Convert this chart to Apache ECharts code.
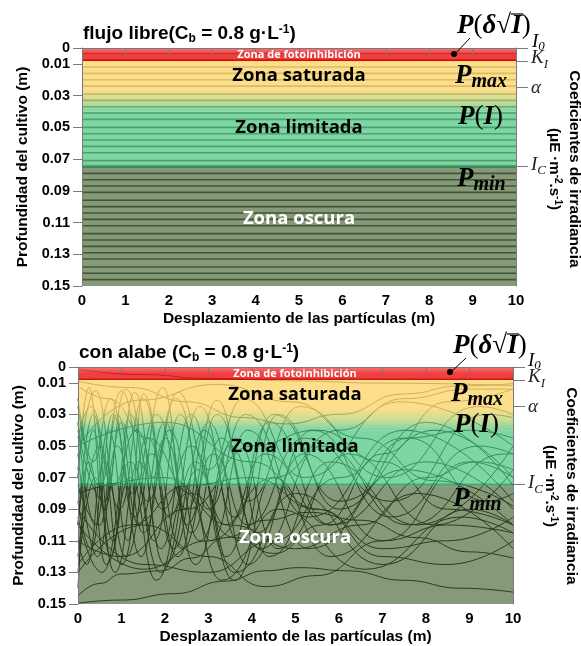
<!DOCTYPE html>
<html><head><meta charset="utf-8">
<script src="https://cdn.jsdelivr.net/npm/echarts@6/dist/echarts.min.js"></script>
<style>html,body{margin:0;padding:0;background:#fff}#c{width:581px;height:646px}</style>
</head><body><div id="c"></div>
<script>
// ---------- data ----------
const depthTicks = [0, 0.01, 0.03, 0.05, 0.07, 0.09, 0.11, 0.13, 0.15];
const coefDepths = [0, 0.0082, 0.025, 0.0745];
const coefLabelDepths = [0.0082, 0.025, 0.0745];
const coefNames = ['I0', 'KI', 'alpha', 'IC'];
const zoneRed = [0, 0.0082];
const zoneRedEdge = [0.0073, 0.0083];
const zoneYellow = [0.0082, 0.026];
const zoneBlend = [0.026, 0.04];
const zoneGreen = [0.04, 0.0735];
const zoneGreenEdge = [0.0735, 0.0755];
const zoneDark = [0.0755, 0.15];
// free flow: constant-depth particle paths
const freeFlowDepths = [0.0035, 0.0077, 0.012, 0.016, 0.020, 0.024, 0.029, 0.033, 0.037, 0.041,
  0.045, 0.050, 0.054, 0.058, 0.062, 0.066, 0.071, 0.075, 0.079, 0.083, 0.087, 0.091, 0.096,
  0.100, 0.104, 0.108, 0.112, 0.117, 0.121, 0.125, 0.129, 0.133, 0.138, 0.142, 0.146];
// with blade: trajectories [x (m), depth (m)]
const trA1 = [[0,0.0015],[1.5,0.0048],[3,0.0072],[5,0.0088],[7,0.0102],[10,0.0118]];
const trA2 = [[0,0.009],[1.2,0.013],[2.5,0.022],[3.8,0.032],[4.8,0.036],[6,0.03],[7.5,0.017],[8.8,0.012],[10,0.0105]];
const trA3 = [[0,0.05],[1.4,0.021],[3.2,0.011],[4.9,0.022],[6.5,0.045],[8.2,0.072],[10,0.088]];
const trA4 = [[0,0.012],[0.7,0.02],[1.6,0.045],[2.6,0.08],[3.6,0.108],[4.5,0.118],[5.6,0.1],[7,0.055],[8.5,0.022],[10,0.014]];
const trA5 = [[0,0.145],[0.5,0.137],[1,0.131],[1.9,0.129],[2.6,0.121],[3.4,0.108],[4.3,0.097],[5.3,0.092],[6.5,0.097],[7.8,0.108],[9,0.117],[10,0.121]];
const trA6 = [[0,0.1495],[1,0.1475],[2.2,0.1435],[3.4,0.1355],[4.3,0.129],[5.1,0.127],[6.2,0.129],[7.5,0.135],[8.8,0.14],[10,0.1425]];
const trA7 = [[0,0.13],[1.5,0.1],[3,0.12],[4.3,0.139],[5.5,0.132],[7,0.11],[8.5,0.1],[10,0.105]];
const trO1 = [[0,0.10],[0.35,0.03],[0.8,0.11],[1.3,0.016],[1.9,0.115],[2.6,0.03],[3.4,0.12],[4.4,0.035],[5.8,0.1],[7.6,0.045],[9.4,0.085],[10,0.08]];
const trO2 = [[0,0.07],[0.25,0.013],[0.6,0.09],[1.0,0.035],[1.5,0.105],[2.1,0.04],[2.8,0.11],[3.6,0.045],[4.6,0.115],[6.2,0.055],[8.2,0.1],[10,0.065]];
const trO3 = [[0,0.035],[0.4,0.1],[0.8,0.03],[1.3,0.095],[1.95,0.013],[2.5,0.1],[3.2,0.03],[4.1,0.105],[5.4,0.04],[7.2,0.095],[9.2,0.05],[10,0.055]];
const trO4 = [[0,0.12],[0.5,0.05],[1.0,0.125],[1.6,0.045],[2.3,0.12],[3.0,0.035],[3.9,0.125],[5.2,0.055],[7,0.11],[9,0.06],[10,0.07]];
const trO5 = [[0,0.085],[0.3,0.115],[0.7,0.04],[1.15,0.11],[1.5,0.017],[2.2,0.115],[2.9,0.04],[3.7,0.11],[4.6,0.03],[6,0.09],[8,0.035],[10,0.075]];
const trO6 = [[0,0.055],[0.45,0.12],[0.9,0.05],[1.45,0.12],[2.0,0.045],[2.7,0.125],[3.5,0.05],[4.4,0.12],[5.8,0.06],[7.8,0.1],[10,0.05]];
const trO7 = [[0,0.11],[0.2,0.125],[0.6,0.06],[1.1,0.12],[1.7,0.055],[2.4,0.115],[3.1,0.055],[3.9,0.1],[5.2,0.045],[7.2,0.085],[9.4,0.03],[10,0.032]];
const trO8 = [[0,0.02],[0.35,0.06],[0.75,0.02],[1.25,0.08],[1.8,0.03],[2.5,0.09],[3.2,0.021],[3.9,0.085],[5.1,0.025],[7.1,0.07],[9.2,0.025],[10,0.03]];
const trO9 = [[0,0.065],[0.4,0.015],[0.95,0.09],[1.5,0.02],[2.1,0.095],[2.8,0.025],[3.6,0.095],[4.5,0.03],[6,0.085],[8.2,0.04],[10,0.07]];
const trO10 = [[0,0.095],[0.55,0.13],[1.2,0.06],[1.9,0.13],[2.7,0.06],[3.6,0.135],[4.5,0.07],[5.8,0.12],[7.8,0.08],[10,0.115]];
const trO11 = [[0,0.04],[0.6,0.085],[1.1,0.014],[1.7,0.07],[2.3,0.016],[3.0,0.065],[3.8,0.02],[5.2,0.07],[7.4,0.022],[10,0.05]];
const trO12 = [[0,0.075],[0.5,0.1],[0.9,0.03],[1.4,0.1],[2.0,0.035],[2.6,0.105],[3.3,0.045],[4.2,0.115],[5.6,0.05],[7.6,0.1],[9.8,0.055],[10,0.055]];
const trO13 = [[0,0.13],[0.4,0.07],[0.85,0.13],[1.4,0.06],[2.0,0.125],[2.75,0.065],[3.6,0.13],[5,0.08],[7,0.125],[9,0.09],[10,0.1]];
const trO14 = [[0,0.025],[0.5,0.075],[1.0,0.015],[1.6,0.085],[2.25,0.02],[3.0,0.09],[3.85,0.03],[5.3,0.095],[7.5,0.04],[10,0.085]];
const trO15 = [[0,0.1],[0.25,0.06],[0.65,0.125],[1.2,0.07],[1.8,0.135],[2.5,0.08],[3.3,0.135],[4.6,0.09],[6.6,0.128],[8.8,0.095],[10,0.105]];
const trO16 = [[0,0.045],[0.3,0.025],[0.8,0.075],[1.35,0.04],[1.95,0.09],[2.6,0.05],[3.4,0.1],[4.3,0.055],[5.8,0.1],[8,0.06],[10,0.09]];
const trO17 = [[0,0.14],[0.35,0.04],[0.75,0.12],[1.2,0.03],[1.75,0.11],[2.35,0.03],[3.05,0.11],[3.9,0.04],[5.3,0.115],[7.5,0.065],[10,0.1]];
const trL1 = [[0,0.11],[1,0.12],[2.5,0.09],[4,0.05],[5.5,0.04],[7,0.06],[8.5,0.09],[10,0.1]];
const trL2 = [[0,0.09],[1.5,0.125],[3,0.13],[4.5,0.11],[6,0.07],[7.5,0.045],[9,0.04],[10,0.045]];
const trL3 = [[0,0.05],[2,0.035],[4,0.06],[5.5,0.09],[7,0.115],[8.5,0.11],[10,0.095]];
const trL4 = [[0,0.125],[1.2,0.1],[2.5,0.075],[4,0.07],[5.5,0.09],[7,0.12],[8.5,0.125],[10,0.11]];
const trL5 = [[0,0.10],[1.5,0.128],[3,0.11],[4.5,0.07],[6,0.04],[7.5,0.02],[9,0.014],[10,0.014]];
const trL6 = [[0,0.08],[2,0.07],[3.5,0.1],[5,0.115],[6.5,0.1],[8,0.07],[9.2,0.06],[10,0.065]];
const bladeTrajectories = [trA1,trA2,trA3,trA4,trA5,trA6,trA7,trO1,trO2,trO3,trO4,trO5,trO6,trO7,trO8,trO9,
  trO10,trO11,trO12,trO13,trO14,trO15,trO16,trO17,trL1,trL2,trL3,trL4,trL5,trL6];

// ---------- styles ----------
const SANS = 'Liberation Sans, Arial, sans-serif';
const SERIF = 'Liberation Serif, Times New Roman, serif';
const ZFONT = 'Open Sans, Noto Sans, sans-serif';
const grad = (stops) => ({type:'linear', x:0, y:0, x2:0, y2:1, colorStops: stops.map((c,i)=>({offset:i/(stops.length-1), color:c}))});
const cRed = grad(['rgba(242,95,95,0.85)','rgba(236,30,30,0.85)','rgba(236,28,28,0.85)']);
const cRedEdge = 'rgba(200,15,15,0.85)';
const cYellow = 'rgba(252,214,109,0.8)';
const cBlend = grad(['rgba(252,214,109,0.8)','rgba(190,210,115,0.74)','rgba(71,196,122,0.7)']);
const cGreen = 'rgba(71,196,122,0.7)';
const cGreenEdge = 'rgba(36,149,86,0.8)';
const cDark = 'rgba(53,87,33,0.6)';

function zoneArea() {
  const band = (r, color) => [{yAxis: r[0], itemStyle: {color}}, {yAxis: r[1]}];
  return {
    silent: true, z: 10,
    label: {show: false},
    data: [band(zoneRed, cRed), band(zoneRedEdge, cRedEdge), band(zoneYellow, cYellow), band(zoneBlend, cBlend),
      band(zoneGreen, cGreen), band(zoneGreenEdge, cGreenEdge), band(zoneDark, cDark)]
  };
}
const axisGray = '#7a7a7a';
function xAx(gi) {
  return {
    gridIndex: gi, type: 'value', min: 0, max: 10, interval: 1, z: 20,
    axisLine: {show: true, lineStyle: {color: axisGray, width: 1}},
    axisTick: {show: true, inside: false, length: 6, lineStyle: {color: axisGray}},
    axisLabel: {color: '#000', fontFamily: SANS, fontWeight: 'bold', fontSize: 15, margin: 7},
    splitLine: {show: false},
    name: 'Desplazamiento de las partículas (m)', nameLocation: 'middle', nameGap: 25,
    nameTextStyle: {color: '#000', fontFamily: SANS, fontWeight: 'bold', fontSize: 15.5}
  };
}
function yLeft(gi) {
  return {
    gridIndex: gi, type: 'value', min: 0, max: 0.15, inverse: true, position: 'left', z: 20,
    axisLine: {show: true, lineStyle: {color: axisGray}},
    axisTick: {show: true, length: 9, customValues: depthTicks, lineStyle: {color: axisGray}},
    axisLabel: {customValues: depthTicks, color: '#000', fontFamily: SANS, fontWeight: 'bold', fontSize: 14.5, margin: 12,
      formatter: v => v === 0 ? '0' : v.toFixed(2)},
    splitLine: {show: false},
    name: 'Profundidad del cultivo (m)', nameLocation: 'middle', nameGap: 49, nameRotate: 90,
    nameTextStyle: {color: '#000', fontFamily: SANS, fontWeight: 'bold', fontSize: 15.5}
  };
}
const coefRich = {
  k: {fontFamily: SERIF, fontStyle: 'italic', fontSize: 19, color: '#222', padding: [0,0,6,0]},
  ksub: {fontFamily: SERIF, fontStyle: 'italic', fontSize: 13, color: '#222', padding: [7,0,0,0]},
  a: {fontFamily: SERIF, fontStyle: 'italic', fontSize: 19, color: '#222'},
  c: {fontFamily: SERIF, fontStyle: 'italic', fontSize: 19, color: '#222', padding: [0,0,3,0]},
  csub: {fontFamily: SERIF, fontStyle: 'italic', fontSize: 13, color: '#222', padding: [9,0,0,0]}
};
function coefFmt(v) {
  let i = 0, best = 1;
  coefDepths.forEach((d, j) => { if (Math.abs(d - v) < best) { best = Math.abs(d - v); i = j; } });
  const n = coefNames[i];
  if (n === 'KI') return '{k|K}{ksub|I}';
  if (n === 'alpha') return '{a|α}';
  return '{c|I}{csub|C}';
}
function yRight(gi) {
  return {
    gridIndex: gi, type: 'value', min: 0, max: 0.15, inverse: true, position: 'right', z: 20,
    axisLine: {show: true, lineStyle: {color: axisGray}},
    axisTick: {show: true, length: 12, customValues: coefDepths, lineStyle: {color: axisGray}},
    axisLabel: {customValues: coefLabelDepths, margin: 15, formatter: coefFmt, rich: coefRich,
      hideOverlap: false, showMinLabel: true, showMaxLabel: true},
    splitLine: {show: false}
  };
}

const series = [];
freeFlowDepths.forEach((d, i) => {
  const s = {type: 'line', xAxisIndex: 0, yAxisIndex: 0, data: [[0, d], [10, d]], showSymbol: false, silent: true,
    lineStyle: {color: '#555', width: 1.6}, z: 2, animation: false};
  if (i === 0) s.markArea = zoneArea();
  series.push(s);
});
bladeTrajectories.forEach((tr, i) => {
  const s = {type: 'line', xAxisIndex: 1, yAxisIndex: 2, data: tr, showSymbol: false, silent: true,
    smooth: 0.5, smoothMonotone: 'x',
    lineStyle: {color: '#141814', width: 1}, z: 2, animation: false};
  if (i === 0) s.markArea = zoneArea();
  series.push(s);
});

// ---------- annotations ----------
const titleRich = {
  t: {fontFamily: SANS, fontWeight: 'bold', fontSize: 19, color: '#000'},
  sub: {fontFamily: SANS, fontWeight: 'bold', fontSize: 12, color: '#000', padding: [9,0,0,0]},
  sup: {fontFamily: SANS, fontWeight: 'bold', fontSize: 12, color: '#000', padding: [0,0,9,0]}
};
const pRich = (col) => ({
  b: {fontFamily: SERIF, fontWeight: 'bold', fontStyle: 'italic', fontSize: 27, color: col},
  r: {fontFamily: SERIF, fontSize: 27, color: col},
  s: {fontFamily: SERIF, fontWeight: 'bold', fontStyle: 'italic', fontSize: 20, color: col, padding: [11,0,0,0]}
});
const i0Rich = {
  i: {fontFamily: SERIF, fontStyle: 'italic', fontSize: 19, color: '#222'},
  s: {fontFamily: SERIF, fontStyle: 'italic', fontSize: 13, color: '#222', padding: [9,0,0,0]}
};
function txt(x, y, text, opts) {
  return Object.assign({type: 'text', x, y, z: 100, silent: true,
    style: Object.assign({text, textAlign: 'center', textVerticalAlign: 'middle', align: 'center', verticalAlign: 'middle'}, opts.style)},
    opts.extra || {});
}
function panelGraphics(dx, title, lay) {
  const g = [];
  g.push(txt(dx + 1, lay.title, title, {style: {rich: titleRich, textAlign: 'left', align: 'left'}}));
  g.push(txt(dx + 217, lay.inh, 'Zona de fotoinhibición', {style: {fill: '#fff', font: 'bold 11px ' + ZFONT}}));
  g.push(txt(dx + 217, lay.sat, 'Zona saturada', {style: {fill: '#000', font: 'bold 18.5px ' + ZFONT}}));
  g.push(txt(dx + 217, lay.lim, 'Zona limitada', {style: {fill: '#000', font: 'bold 18.5px ' + ZFONT}}));
  g.push(txt(dx + 217, lay.osc, 'Zona oscura', {style: {fill: '#fff', font: 'bold 18.5px ' + ZFONT}}));
  g.push(txt(dx + 375, lay.pd, '{b|P}{r|(}{b|δ}{r|√}{b|I}{r|)}', {style: {rich: pRich('#000'), textAlign: 'left', align: 'left'}}));
  g.push({type: 'line', z: 100, silent: true, shape: {x1: dx + 429, y1: lay.pd - 12, x2: dx + 441, y2: lay.pd - 12}, style: {stroke: '#000', lineWidth: 1.2}});
  g.push({type: 'line', z: 100, silent: true, shape: {x1: dx + 388, y1: lay.pd + 12, x2: dx + 373, y2: lay.dot}, style: {stroke: '#000', lineWidth: 1}});
  g.push({type: 'circle', z: 100, silent: true, shape: {cx: dx + 372, cy: lay.dot, r: 3}, style: {fill: '#000'}});
  g.push(txt(dx + 373, lay.pmax, '{b|P}{s|max}', {style: {rich: pRich('#000'), textAlign: 'left', align: 'left'}}));
  g.push(txt(dx + 376, lay.pi, '{b|P}{r|(}{b|I}{r|)}', {style: {rich: pRich('#000'), textAlign: 'left', align: 'left'}}));
  g.push(txt(dx + 375, lay.pmin, '{b|P}{s|min}', {style: {rich: pRich('#fff'), textAlign: 'left', align: 'left'}}));
  g.push(txt(dx + 450, lay.i0, '{i|I}{s|0}', {style: {rich: i0Rich, textAlign: 'left', align: 'left'}}));
  g.push(txt(lay.cx, lay.cy, 'Coeficientes de irradiancia', {style: {fill: '#000', font: 'bold 15.5px ' + SANS}, extra: {rotation: -Math.PI / 2}}));
  g.push(txt(lay.ux, lay.cy, '{t|(μE ·m}{sup|-2}{t|.s}{sup|-1}{t|)}', {style: {rich: {
    t: {fontFamily: SANS, fontWeight: 'bold', fontSize: 15, color: '#000'},
    sup: {fontFamily: SANS, fontWeight: 'bold', fontSize: 10, color: '#000', padding: [0,0,8,0]}}}, extra: {rotation: -Math.PI / 2}}));
  return g;
}
const graphics = [].concat(
  panelGraphics(82, '{t|flujo libre(C}{sub|b}{t| = 0.8 g·L}{sup|-1}{t|)}',
    {title: 34, inh: 55, sat: 76, lim: 128, osc: 219, pd: 26, dot: 54, pmax: 76, pi: 117, pmin: 179, i0: 42, cx: 574, ux: 554, cy: 169}),
  panelGraphics(78, '{t|con alabe (C}{sub|b}{t| = 0.8 g·L}{sup|-1}{t|)}',
    {title: 353, inh: 374, sat: 395, lim: 447, osc: 538, pd: 346, dot: 372, pmax: 394, pi: 425, pmin: 499, i0: 361, cx: 571, ux: 550, cy: 486})
);

const chart = echarts.init(document.getElementById('c'), null, {renderer: 'canvas'});
chart.setOption({
  animation: false,
  backgroundColor: '#fff',
  grid: [
    {left: 82, top: 48, width: 434, height: 238},
    {left: 78, top: 367, width: 435, height: 239}
  ],
  xAxis: [xAx(0), xAx(1)],
  yAxis: [yLeft(0), yRight(0), yLeft(1), yRight(1)],
  series,
  graphic: graphics
});
</script></body></html>
